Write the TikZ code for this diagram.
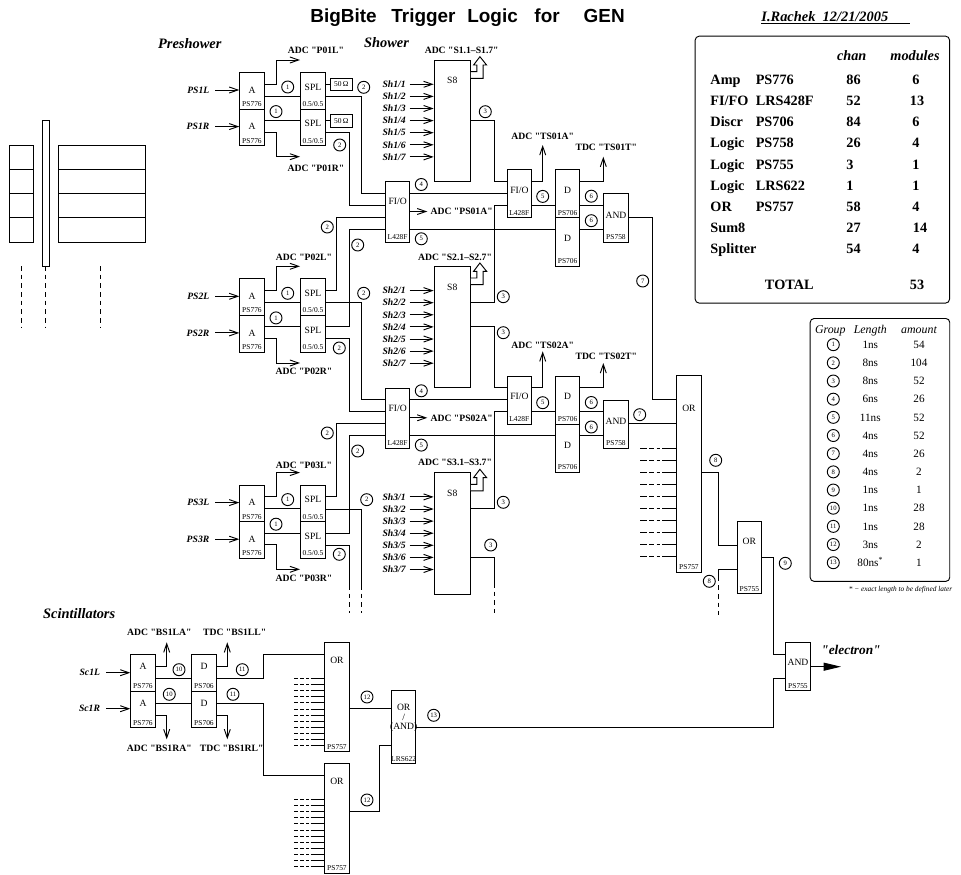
\documentclass[tikz,border=0pt]{standalone}
\usepackage{fontspec}
\setmainfont{Liberation Serif}[Ligatures=TeXOff]
\newfontfamily\titlefont{Liberation Sans}
\usetikzlibrary{positioning,arrows.meta,calc}
\newcommand{\tagfont}{\fontsize{5.6}{6}\selectfont}
\newcommand{\unitfont}{\fontsize{7.2}{6.9}\selectfont}
\newcommand{\sigfont}{\fontsize{7.25}{8}\selectfont\bfseries}
\tikzset{
  unit/.style n args={4}{draw,anchor=north west,inner sep=0pt,minimum width=18.3pt,minimum height=#3*0.75pt,
    label={[anchor=center,inner sep=0pt,align=center,font=\unitfont,yshift=-#4*0.75pt]north:#1},
    label={[anchor=south,inner sep=1.9pt,font=\tagfont]south:#2}},
  term/.style={draw,inner sep=0pt,minimum width=16.3pt,minimum height=9.5pt,font=\tagfont},
  num/.style={draw,circle,inner sep=0pt,minimum size=9pt,font=\fontsize{5}{5}\selectfont},
  siglab/.style={inner sep=0pt,font=\sigfont,text height=4.8pt,text depth=0pt},
  inlab/.style={anchor=east,inner sep=0pt,outer sep=3pt,font=\sigfont\itshape,text height=4.8pt,text depth=0pt},
  headlab/.style={anchor=west,inner sep=0pt,font=\fontsize{10.8}{12}\selectfont\bfseries\itshape,text height=7.1pt,text depth=0pt},
  tabbold/.style={anchor=west,inner sep=0pt,font=\fontsize{10.7}{12}\selectfont\bfseries,text height=7pt,text depth=0pt},
  tabsmall/.style={inner sep=0pt,font=\fontsize{8.4}{10}\selectfont,text height=5.6pt,text depth=0pt},
  panel/.style={draw,anchor=north west,rounded corners=3pt,inner sep=0pt},
  flow/.style={-{Straight Barb[length=6.5pt,width=4.5pt]}},
  bigflow/.style={-{Triangle[length=13pt,width=6pt]}},
  cutline/.style={dash pattern=on 3.5pt off 3pt},
  stubline/.style={dash pattern=on 5pt off 2pt on 3.5pt off 2pt on 2.5pt off 1.5pt on 20pt},
  bus/.style={fill=white},
  cell/.style={draw,anchor=north west,inner sep=0pt},
}
\begin{document}
\begin{tikzpicture}[x=0.75pt,y=-0.75pt,line width=0.7pt]
  \useasboundingbox (0,0) rectangle (961,875);
  \node[anchor=west,inner sep=0pt,font=\fontsize{14.2}{16}\selectfont\titlefont\bfseries] (title) at (310,17.3) {BigBite\hspace{11pt}Trigger\hspace{8.8pt}Logic\hspace{12.5pt}for\hspace{18pt}GEN};
  \node[headlab] (author) at (761,16.7) {I.Rachek\ \ 12/21/2005};
  \coordinate (ulend) at (910,23.3);
  \draw (author.west |- ulend) -- (ulend);
  \node[headlab] (preshower) at (157.7,43.3) {Preshower};
  \node[headlab] (shower) at (363.7,43) {Shower};
  \node[headlab] (scint) at (42.7,614) {Scintillators};

  \foreach \i in {1,...,4} {
    \node[cell,minimum width=18.2pt,minimum height=18.2pt] (pre\i) at (9,{144.7+24.25*(\i-1)}) {};
    \node[cell,minimum width=65.5pt,minimum height=18.2pt] (tot\i) at (57.7,{144.7+24.25*(\i-1)}) {};
  }
  \node[cell,minimum width=4.8pt,minimum height=109.5pt] (thin) at (42.3,120.3) {};
  \foreach \x/\n in {21/a,45.3/b,100/c} {
    \coordinate (drop\n) at (\x,266);
    \coordinate (dropend\n) at (\x,326.7);
    \draw[cutline] (drop\n) -- (dropend\n);
  }

  \foreach \row/\dy in {1/0,2/206.3,3/412.6} {
    \begin{scope}[shift={(0,\dy)}]
      \node[unit={A}{PS776}{36.6}{18}] (a\row l) at (239.3,72) {};
      \node[unit={A}{PS776}{36.6}{18}] (a\row r) at (239.3,108.6) {};
      \node[unit={SPL}{0.5/0.5}{36.6}{15}] (spl\row l) at (300.3,72) {};
      \node[unit={SPL}{0.5/0.5}{36.6}{15}] (spl\row r) at (300.3,108.6) {};
      \node[inlab,outer sep=4.5pt] (ps\row l) at (215.3,90) {PS\row L};
      \node[inlab,outer sep=4.5pt] (ps\row r) at (215.3,126.6) {PS\row R};
      \draw[flow] (ps\row l.east) -- (a\row l.west |- ps\row l.east);
      \draw[flow] (ps\row r.east) -- (a\row r.west |- ps\row r.east);
      \coordinate (adc\row l) at (300,60);
      \coordinate (adc\row r) at (300,156.7);
      \draw[flow] (a\row l.east |- 0,84) -- ++(12,0) |- (adc\row l);
      \draw[flow] (a\row r.east |- 0,132.3) -- ++(12,0) |- (adc\row r);
      \draw (a\row l.east |- 0,96.3) -- (spl\row l.west |- 0,96.3);
      \draw (a\row r.east |- 0,120.4) -- (spl\row r.west |- 0,120.4);
      \node[unit={S8}{}{121.3}{21},minimum width=27.2pt] (s\row) at (433.7,59.7) {};
      \foreach \i in {1,...,7} {
        \node[inlab] (sh\row\i) at (409.7,{72.2+12.1*\i}) {Sh\row/\i};
        \draw[flow] (sh\row\i.east) -- (s\row.west |- sh\row\i.east);
      }
      \draw[bus] (s\row.east |- 0,71.7) -- ++(6,0) -- ++(0,-6.7) -- ++(-3.3,0) -- ++(6.3,-8.3) -- ++(6.7,8.3) -- ++(-3.4,0) -- ++(0,13.3) -- (s\row.east |- 0,78.3);
      \node[num] (na\row) at (287.7,87) {1};
      \node[num] (nb\row) at (276,111.6) {1};
    \end{scope}
  }
  \foreach \row/\dy in {1/0,2/206.3} {
    \begin{scope}[shift={(0,\dy)}]
      \node[unit={FI/O}{L428F}{60.4}{20.4}] (fo\row) at (385,181.3) {};
      \node[unit={FI/O}{L428F}{48}{20.7}] (fi\row) at (506.7,169.3) {};
      \node[unit={D}{PS706}{48}{20.7}] (du\row) at (555,169.3) {};
      \node[unit={D}{PS706}{48.5}{21.4}] (dd\row) at (555,217.3) {};
      \node[unit={AND}{PS758}{48.4}{21.7}] (an\row) at (603.3,193.3) {};
      \node[siglab,anchor=west,outer sep=2.5pt] (psa\row) at (427.3,211.5) {ADC "PS0\row A"};
      \coordinate (tsa\row) at (542.7,145);
      \coordinate (tst\row) at (603.3,156.7);
      \draw[flow] (fo\row.east |- psa\row.west) -- (psa\row.west);
      \draw (fo\row.east |- 0,193.3) -- (fi\row.west |- 0,193.3);
      \draw (fo\row.east |- 0,229.5) -- (dd\row.west |- 0,229.5);
      \draw (fi\row.east |- 0,205.3) -- (du\row.west |- 0,205.3);
      \draw[flow] (fi\row.east |- 0,181) -| (tsa\row);
      \draw[flow] (du\row.east |- 0,181) -| (tst\row);
      \draw (du\row.east |- 0,205.3) -- (an\row.west |- 0,205.3);
      \draw (dd\row.east |- 0,229.5) -- (an\row.west |- 0,229.5);
      \draw (s\row.east |- 0,120.4) -- (494.3,120.4) |- (fi\row.west |- 0,181);
      \node[num] (nc\row) at (421.3,184.5) {4};
      \node[num] (nd\row) at (421.3,238.8) {5};
      \node[num] (ne\row) at (542.7,196.4) {5};
      \node[num] (nf\row) at (591.3,196.2) {6};
      \node[num] (ng\row) at (591.3,220.7) {6};
    \end{scope}
  }
  \node[term] (t1l) at (341.2,84.3) {50\,Ω};
  \node[term] (t1r) at (341.2,120.8) {50\,Ω};
  \draw (spl1l.east |- t1l.west) -- (t1l.west);
  \draw (spl1r.east |- t1r.west) -- (t1r.west);

  \draw (spl1l.east |- 0,96.3) -- (361,96.3) |- (fo1.west |- 0,193.3);
  \draw (spl1r.east |- 0,132.3) -- (349,132.3) |- (fo1.west |- 0,205.3);
  \draw (spl2l.east |- 0,290.3) -- (336.7,290.3) |- (fo1.west |- 0,217.3);
  \draw (spl2r.east |- 0,326.7) -- (349,326.7) |- (fo1.west |- 0,229.3);
  \draw (spl2l.east |- 0,302.6) -- (361,302.6) |- (fo2.west |- 0,399.5);
  \draw (spl2r.east |- 0,338.6) -- (349,338.6) |- (fo2.west |- 0,411.7);
  \draw (spl3l.east |- 0,496.7) -- (336.7,496.7) |- (fo2.west |- 0,423.7);
  \draw (spl3r.east |- 0,533) -- (349,533) |- (fo2.west |- 0,435.7);
  \coordinate (cutl) at (361,585);
  \coordinate (endl) at (361,613);
  \coordinate (cutr) at (349,585);
  \coordinate (endr) at (349,613);
  \coordinate (cuts) at (494.3,583);
  \coordinate (ends) at (494.3,613);
  \draw (spl3l.east |- 0,509) -- (361,509) -- (cutl);
  \draw (spl3r.east |- 0,545) -- (349,545) -- (cutr);
  \draw (s3.east |- 0,557.3) -- (494.3,557.3) -- (cuts);
  \draw[cutline] (cutl) -- (endl);
  \draw[cutline] (cutr) -- (endr);
  \draw[cutline] (cuts) -- (ends);
  \draw (s2.east |- 0,302.5) -- (494.3,302.5) |- (fi1.west |- 0,205.3);
  \draw (s3.east |- 0,508.5) -- (494.3,508.5) |- (fi2.west |- 0,411.6);

  \node[unit={OR}{PS757}{196.7}{33.4}] (or1) at (676.3,375.3) {};
  \node[unit={OR}{PS755}{72.6}{21}] (or2) at (736.7,520.7) {};
  \node[unit={AND}{PS755}{48.3}{20.7}] (an3) at (785.3,642) {};
  \draw (an1.east |- 0,217.7) -- (652,217.7) |- (or1.west |- 0,399.5);
  \draw (an2.east |- 0,423.7) -- (or1.west |- 0,423.7);
  \foreach \i in {0,...,9} {
    \coordinate (stub\i) at (640,{448+12.1*\i});
    \draw[stubline] (stub\i) -- (or1.west |- stub\i);
  }
  \coordinate (cut8) at (718.7,576.7);
  \coordinate (end8) at (718.7,615);
  \draw (or1.east |- 0,472.3) -- (718.7,472.3) |- (or2.west |- 0,545);
  \draw (or2.west |- 0,569.3) -- (718.7,569.3) -- (cut8);
  \draw[cutline] (cut8) -- (end8);
  \draw (or2.east |- 0,557) -- (773.3,557) |- (an3.west |- 0,654.3);
  \coordinate (elec) at (841,666.7);
  \draw[bigflow] (an3.east |- elec) -- (elec);
  \node[anchor=center,inner sep=0pt,font=\fontsize{10}{12}\selectfont\bfseries\itshape] (electron) at (851,650) {"electron"};

  \node[unit={A}{PS776}{36.7}{12}] (sa1) at (130.3,654.3) {};
  \node[unit={A}{PS776}{36.3}{12}] (sa2) at (130.3,691) {};
  \node[unit={D}{PS706}{36.7}{12}] (sd1) at (191.3,654.3) {};
  \node[unit={D}{PS706}{36.3}{12}] (sd2) at (191.3,691) {};
  \node[unit={OR}{PS757}{109}{17.7}] (or3) at (324.3,642.3) {};
  \node[unit={OR}{PS757}{109.4}{18.4}] (or4) at (324.3,763.3) {};
  \node[unit={OR\\/\\(AND)}{LRS622}{73}{27.7}] (lrs) at (391,690.3) {};
  \node[inlab,outer sep=4.5pt] (sc1l) at (106,672.7) {Sc1L};
  \node[inlab,outer sep=4.5pt] (sc1r) at (106,708.7) {Sc1R};
  \draw[flow] (sc1l.east) -- (sa1.west |- sc1l.east);
  \draw[flow] (sc1r.east) -- (sa2.west |- sc1r.east);
  \coordinate (bsla) at (166.7,642.3);
  \coordinate (bsra) at (166.7,739.3);
  \coordinate (bsll) at (227.3,642.3);
  \coordinate (bsrl) at (227.3,739.3);
  \draw[flow] (sa1.east |- 0,666.7) -| (bsla);
  \draw[flow] (sa2.east |- 0,715) -| (bsra);
  \draw[flow] (sd1.east |- 0,666.7) -| (bsll);
  \draw[flow] (sd2.east |- 0,715) -| (bsrl);
  \draw (sa1.east |- 0,678.7) -- (sd1.west |- 0,678.7);
  \draw (sa2.east |- 0,703) -- (sd2.west |- 0,703);
  \draw (sd1.east |- 0,678.7) -- (263.7,678.7) |- (or3.west |- 0,654.3);
  \draw (sd2.east |- 0,703) -- (263.7,703) |- (or4.west |- 0,775.3);
  \foreach \i in {0,...,11} {
    \coordinate (stuba\i) at (294,{678.7+6.06*\i});
    \draw[stubline,dash pattern=on 3pt off 1.5pt on 3pt off 1.5pt on 2pt off 1.5pt on 20pt] (stuba\i) -- (or3.west |- stuba\i);
    \coordinate (stubb\i) at (294,{799.7+6.06*\i});
    \draw[stubline,dash pattern=on 3pt off 1.5pt on 3pt off 1.5pt on 2pt off 1.5pt on 20pt] (stubb\i) -- (or4.west |- stubb\i);
  }
  \draw (or3.east |- 0,708.7) -- (lrs.west |- 0,708.7);
  \draw (or4.east |- 0,811.7) -- (379,811.7) |- (lrs.west |- 0,745);
  \draw (lrs.east |- 0,727) -- (773.3,727) |- (an3.west |- 0,678.7);

  \foreach \x/\y/\txt [count=\i] in {363.7/87.3/2,339.7/145/2,327.3/227/2,357.7/245/2,363.7/293.3/2,339.3/348/2,327.3/433/2,357.7/451/2,366.7/499.7/2,339.3/554.3/2,
      485.3/111.7/3,503.3/296.7/3,503.3/332.7/3,503.3/502.3/3,490.7/545/3,642.7/281/7,639.7/414.7/7,715.7/460.3/8,709.3/581.3/8,785.3/563.3/9,
      179/669.7/10,169.3/694.3/10,242.3/669.7/11,233/694.3/11,367/697/12,367/800/12,433.7/715.3/13} {
    \node[num] (wire\i) at (\x,\y) {\txt};
  }
  \foreach \txt/\x/\y [count=\i] in {ADC "P01L"/316/50.7,ADC "P01R"/316/168.3,ADC "P02L"/304/257,ADC "P02R"/304/371.7,ADC "P03L"/304/465.7,ADC "P03R"/304/578.7,
      ADC "S1.1–S1.7"/461.7/50.7,ADC "S2.1–S2.7"/455/257,ADC "S3.1–S3.7"/455/462.3,ADC "TS01A"/542.7/136,ADC "TS02A"/542.7/345,TDC "TS01T"/606.3/147.7,TDC "TS02T"/606.3/356.7,
      ADC "BS1LA"/159.3/632.7,ADC "BS1RA"/159.3/748,TDC "BS1LL"/234.7/632.7,TDC "BS1RL"/231.7/748} {
    \node[siglab] (sig\i) at (\x,\y) {\txt};
  }

  \node[panel,minimum width=190.8pt,minimum height=200.2pt] (modpanel) at (694.7,35.7) {};
  \node[tabbold,anchor=center,font=\fontsize{10.7}{12}\selectfont\bfseries\itshape] (chan) at (851.7,55.7) {chan};
  \node[tabbold,anchor=center,font=\fontsize{10.7}{12}\selectfont\bfseries\itshape] (modules) at (915,55.7) {modules};
  \foreach \a/\b/\c/\d/\mx/\y [count=\i] in {Amp/PS776/86/6/916/80,FI\slash FO/LRS428F/52/13/917/100.7,Discr/PS706/84/6/916/122.3,Logic/PS758/26/4/916/143.3,Logic/PS755/3/1/916/164.7,Logic/LRS622/1/1/916/185.7,OR/PS757/58/4/916/207.3,Sum8//27/14/920/228.3,Splitter//54/4/916/249.3} {
    \node[tabbold] (ka\i) at (710,\y) {\a};
    \node[tabbold] (kb\i) at (755.3,\y) {\b};
    \node[tabbold] (kc\i) at (846,\y) {\c};
    \node[tabbold,anchor=center] (kd\i) at (\mx,\y) {\d};
  }
  \node[tabbold,anchor=center] (total) at (789.3,285.3) {TOTAL};
  \node[tabbold,anchor=center] (totalv) at (917,285.3) {53};

  \node[panel,minimum width=104.7pt,minimum height=197.2pt] (lenpanel) at (809.7,318) {};
  \node[tabsmall,font=\fontsize{8.9}{10}\selectfont\itshape] (group) at (830.3,329.7) {Group};
  \node[tabsmall,font=\fontsize{8.9}{10}\selectfont\itshape] (length) at (870.3,329.7) {Length};
  \node[tabsmall,font=\fontsize{8.9}{10}\selectfont\itshape] (amount) at (919,329.7) {amount};
  \foreach \len/\amt [count=\i] in {1ns/54,8ns/104,8ns/52,6ns/26,11ns/52,4ns/52,4ns/26,4ns/2,1ns/1,1ns/28,1ns/28,3ns/2,80ns\textsuperscript{*}/1} {
    \node[num] (gn\i) at (833.3,{326.5+18.17*\i}) {\i};
    \node[tabsmall] (gl\i) at (870.3,{326.5+18.17*\i}) {\len};
    \node[tabsmall] (ga\i) at (919,{326.5+18.17*\i}) {\amt};
  }
  \node[inner sep=0pt,font=\fontsize{5.5}{7}\selectfont\itshape] (note) at (900.5,590) {* − exact length to be defined later};
\end{tikzpicture}
\end{document}
